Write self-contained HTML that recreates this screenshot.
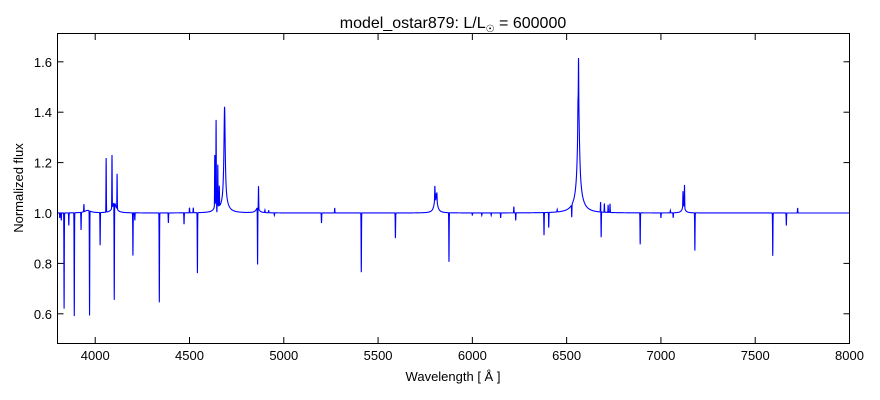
<!DOCTYPE html>
<html><head><meta charset="utf-8"><style>
body{margin:0;background:#fff;}
svg{display:block;font-family:"Liberation Sans",sans-serif;}
</style></head><body>
<svg id="s" width="880" height="400" xmlns="http://www.w3.org/2000/svg">
<rect width="880" height="400" fill="#fff"/>
<text x="453" y="28" font-size="16" text-anchor="middle">model_ostar879: L/L<tspan font-size="10" dy="4">☉</tspan><tspan dy="-4"> = 600000</tspan></text>
<g id="ticks" stroke="#000" stroke-width="1"></g>
<g id="lab" font-size="13"></g>
<path id="p" fill="none" stroke="#0000ff" stroke-width="1.1"/>
<rect x="57.5" y="33.5" width="792" height="310" fill="none" stroke="#000" stroke-width="1"/>
<text x="453" y="381" font-size="13" text-anchor="middle">Wavelength [ Å ]</text>
<text transform="translate(23,188) rotate(-90)" font-size="13" text-anchor="middle">Normalized flux</text>
</svg>
<script>
const X=w=>57.5+(w-3800)*792/4200;
const Y=f=>213-(f-1)*252;
let t='',l='';
for(let w=4000;w<=8000;w+=500){const x=X(w);t+=`<line x1="${x}" y1="343" x2="${x}" y2="337"/><line x1="${x}" y1="34" x2="${x}" y2="40"/>`;l+=`<text x="${x}" y="360" text-anchor="middle">${w}</text>`;}
for(let k=0;k<6;k++){const f=0.6+k*0.2,y=Y(f);t+=`<line x1="57.5" y1="${y}" x2="63.5" y2="${y}"/><line x1="849.5" y1="${y}" x2="843.5" y2="${y}"/>`;l+=`<text x="52" y="${y+5}" text-anchor="end">${f.toFixed(1)}</text>`;}
document.getElementById('ticks').innerHTML=t;document.getElementById('lab').innerHTML=l;
const sharp=[[3812,-0.02],[3820,-0.03],[3835,-0.38],[3860,-0.05],[3889,-0.41],[3925,-0.07],[3940,0.03],[3970,-0.415],[4026,-0.13],[4058,0.215],[4089,0.21],[4101,-0.385],[4116,0.14],[4200,-0.17],[4210,-0.03],[4340,-0.355],[4388,-0.04],[4471,-0.045],[4500,0.02],[4520,0.02],[4542,-0.24],[4634,0.2],[4641,0.32],[4645,-0.04],[4650,0.16],[4658,0.08],[4861,-0.225],[4866,0.09],[4900,0.01],[4920,0.01],[4950,-0.01],[5200,-0.04],[5270,0.02],[5411,-0.235],[5592,-0.1],[5801,0.05],[5812,0.03],[5806,-0.03],[5876,-0.195],[6000,-0.01],[6050,-0.01],[6100,-0.01],[6150,-0.02],[6220,0.025],[6230,-0.03],[6380,-0.09],[6405,-0.06],[6450,0.01],[6527,-0.05],[6560,0.07],[6563,0.165],[6680,0.04],[6683,-0.1],[6700,0.035],[6720,0.03],[6730,0.035],[6890,-0.125],[7000,-0.02],[7050,0.01],[7065,-0.02],[7117,0.06],[7125,0.09],[7180,-0.15],[7593,-0.17],[7665,-0.05],[7725,0.02]];
const broad=[[4686,0.38,4],[4686,0.04,20],[4641,0.04,8],[4101,0.04,12],[5806,0.08,8],[6563,0.38,6],[6563,0.07,25],[7120,0.03,8],[4861,0.02,10],[3960,0.01,20]];
let d='';
for(let w=3800;w<=8000;w+=0.5){let f=1;
for(const[c,a,g]of broad){const u=(w-c)/g;f+=a/(1+u*u);}
for(const[c,a]of sharp){const u=(w-c)/0.9;if(Math.abs(u)<5)f+=a*Math.exp(-u*u/2);}
d+=(d?'L':'M')+X(w).toFixed(2)+','+Y(f).toFixed(2);}
document.getElementById('p').setAttribute('d',d);
</script>
</body></html>
